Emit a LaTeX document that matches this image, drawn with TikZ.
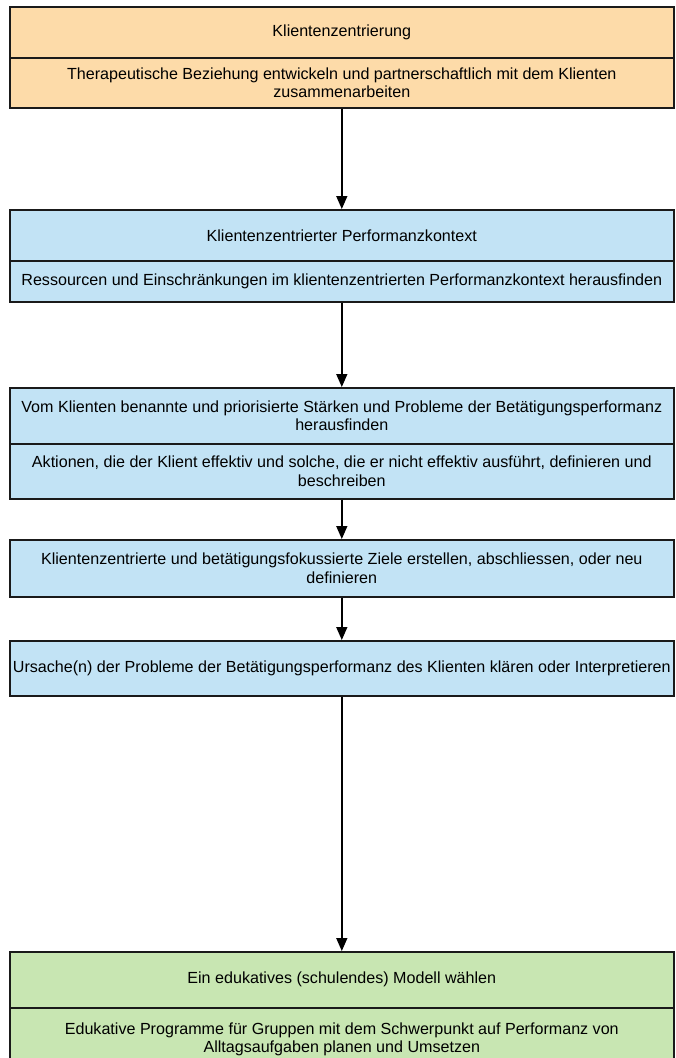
\documentclass[tikz,border=0pt]{standalone}
\usepackage{fontspec}
\setmainfont{Liberation Sans}
\usetikzlibrary{arrows.meta}
\definecolor{orangefill}{HTML}{FDDBA9}
\definecolor{bluefill}{HTML}{C2E3F5}
\definecolor{greenfill}{HTML}{C8E6B2}
\definecolor{edge}{HTML}{1A1A1A}
\begin{document}
\begin{tikzpicture}[x=1pt,y=-1pt,
  cell/.style={draw=edge, line width=1.6pt, minimum width=664pt, inner sep=0pt,
    align=center, anchor=north west, font=\fontsize{16.1}{18.5}\selectfont},
  orangecell/.style={cell, fill=orangefill},
  bluecell/.style={cell, fill=bluefill},
  greencell/.style={cell, fill=greenfill},
  flow/.style={draw=black, line width=1.5pt, -{Triangle[length=13pt,width=11pt]}}]
\useasboundingbox (0,0) rectangle (675,1058);
% Box 1
\node[orangecell, minimum height=51pt] (a1) at (9,6) {Klientenzentrierung};
\node[orangecell, minimum height=50pt] (a2) at (9,57) {Therapeutische Beziehung entwickeln und partnerschaftlich mit dem Klienten\\zusammenarbeiten};
% Box 2
\node[bluecell, minimum height=51pt] (b1) at (9,209) {Klientenzentrierter Performanzkontext};
\node[bluecell, minimum height=41pt] (b2) at (9,260) {Ressourcen und Einschränkungen im klientenzentrierten Performanzkontext herausfinden};
% Box 3
\node[bluecell, minimum height=56pt] (c1) at (9,387) {Vom Klienten benannte und priorisierte Stärken und Probleme der Betätigungsperformanz\\herausfinden};
\node[bluecell, minimum height=55pt] (c2) at (9,443) {Aktionen, die der Klient effektiv und solche, die er nicht effektiv ausführt, definieren und\\beschreiben};
% Box 4
\node[bluecell, minimum height=57pt] (d1) at (9,539) {Klientenzentrierte und betätigungsfokussierte Ziele erstellen, abschliessen, oder neu\\definieren};
% Box 5
\node[bluecell, minimum height=55pt] (e1) at (9,640) {Ursache(n) der Probleme der Betätigungsperformanz des Klienten klären oder Interpretieren};
% Box 6
\node[greencell, minimum height=56pt] (f1) at (9,951) {Ein edukatives (schulendes) Modell wählen};
\node[greencell, minimum height=63pt] (f2) at (9,1007) {Edukative Programme für Gruppen mit dem Schwerpunkt auf Performanz von\\Alltagsaufgaben planen und Umsetzen};
% Connectors
\draw[flow] (a2.south) -- (b1.north);
\draw[flow] (b2.south) -- (c1.north);
\draw[flow] (c2.south) -- (d1.north);
\draw[flow] (d1.south) -- (e1.north);
\draw[flow] (e1.south) -- (f1.north);
\end{tikzpicture}
\end{document}
